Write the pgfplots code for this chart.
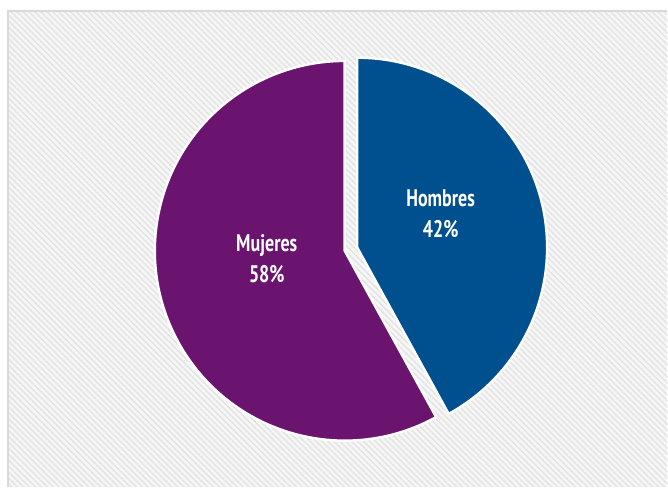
\documentclass[border=0pt]{standalone}
\usepackage{pgfplots}
\pgfplotsset{compat=1.18}
\usepackage{pgfplotstable}
\usetikzlibrary{patterns.meta}
\usepackage{fontspec}
\setmainfont{PT Sans}
\definecolor{mujer}{HTML}{6A1470}
\definecolor{hombre}{HTML}{00508F}
\pgfplotstableread{
label value
Hombres 42
Mujeres 58
}\piedata

\begin{document}
\begin{tikzpicture}
\pgfplotstablegetelem{0}{value}\of\piedata \let\vh\pgfplotsretval
\pgfplotstablegetelem{1}{value}\of\piedata \let\vm\pgfplotsretval
\pgfmathsetmacro\ah{90-3.6*\vh}
\pgfmathsetmacro\amid{90-1.8*\vh}
\begin{axis}[scale only axis, width=334pt, height=243.5pt,
  xmin=0, xmax=668, ymin=0, ymax=487, hide axis, clip=false]
\fill[white] (axis cs:0,0) rectangle (axis cs:668,487);
\fill[gray!7] (axis cs:8,0) rectangle (axis cs:668,476);
\fill[pattern={Lines[angle=-45,distance=2.1pt,line width=0.7pt]}, pattern color=gray!22] (axis cs:8,0) rectangle (axis cs:668,476);
\draw[gray!30, line width=0.6pt] (axis cs:8,0) -- (axis cs:8,476) -- (axis cs:668,476);
% Mujeres
\filldraw[fill=mujer, draw=white, line width=1.2pt, line join=round]
  (axis cs:345,236) -- ++(\ah:95pt) arc[start angle=\ah, end angle=-270, radius=95pt] -- cycle;
% Hombres (exploded)
\path (axis cs:345,236) ++(\amid:6.5pt) coordinate (hc);
\filldraw[fill=hombre, draw=white, line width=1.2pt, line join=round]
  (hc) -- ++(90:95pt) arc[start angle=90, end angle=\ah, radius=95pt] -- cycle;
\node[white, font=\bfseries\fontsize{12}{15.5}\selectfont, align=center]
  at (axis cs:441,273.5) {\scalebox{0.75}[1]{Hombres}\\\scalebox{0.75}[1]{\vh\%}};
\node[white, font=\bfseries\fontsize{12}{15.5}\selectfont, align=center]
  at (axis cs:267,228) {\scalebox{0.75}[1]{Mujeres}\\\scalebox{0.75}[1]{\vm\%}};
\end{axis}
\end{tikzpicture}
\end{document}
